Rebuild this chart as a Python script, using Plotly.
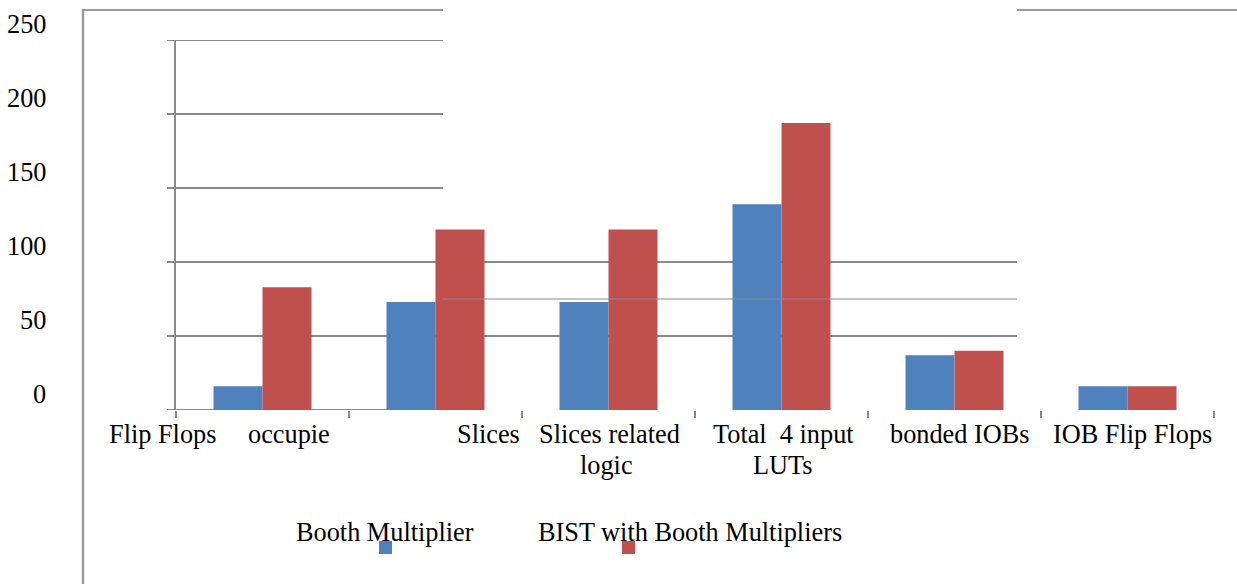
import plotly.graph_objects as go

# ---- data ----
categories = ["Flip Flops", "occupied Slices", "Slices related logic",
              "Total 4 input LUTs", "bonded IOBs", "IOB Flip Flops"]
series_names = ["Booth Multiplier", "BIST with Booth Multipliers"]
booth = [16, 73, 73, 139, 37, 16]
bist = [83, 122, 122, 194, 40, 16]
y_ticks = [0, 50, 100, 150, 200, 250]

# visible (partly clipped) category label texts
label_row1 = ["Flip Flops", "occupie", "Slices", "Slices related",
              "Total\u00a0 4 input", "bonded IOBs", "IOB Flip Flops"]
label_row2 = ["logic", "LUTs"]

# ---- layout constants ----
W, H = 1237, 584
L, R, T, B = 176, 23, 40, 174
PW = W - L - R
PH = H - T - B
FONT = "Liberation Serif, Times New Roman, serif"
FS = 26.3
BLUE = "#4F81BD"
RED = "#C0504D"
GRID = "#8a8a8a"
NCAT = len(categories)


def px_to_paper_x(px):
    return (px - L) / PW


def px_to_paper_y(py):
    return (H - B - py) / PH


def idx_to_paper_x(idx):
    # category index -> paper coordinate on the category axis range [-0.5, n-0.5]
    return (idx + 0.5) / NCAT


row1_x = [-0.578, 0.156, 1.306, 2.003, 3.014, 4.032, 5.029]
row2_x = [1.991, 3.006]

fig = go.Figure()
fig.add_trace(go.Bar(x=categories, y=booth, name=series_names[0],
                     marker=dict(color=BLUE, line=dict(width=0))))
fig.add_trace(go.Bar(x=categories, y=bist, name=series_names[1],
                     marker=dict(color=RED, line=dict(width=0))))

shapes = []
# gridlines in the left section (full set)
for v in y_ticks:
    shapes.append(dict(type="line", xref="paper", yref="y",
                       x0=px_to_paper_x(167), x1=px_to_paper_x(443), y0=v, y1=v,
                       line=dict(color=GRID, width=2), layer="below"))
# gridlines 50 and 100 continue to the right
for v in [50, 100]:
    shapes.append(dict(type="line", xref="paper", yref="y",
                       x0=px_to_paper_x(443), x1=px_to_paper_x(1017), y0=v, y1=v,
                       line=dict(color=GRID, width=2), layer="below"))
# thin stray line drawn over the bars
shapes.append(dict(type="line", xref="paper", yref="y",
                   x0=px_to_paper_x(443), x1=px_to_paper_x(1017), y0=75, y1=75,
                   line=dict(color=GRID, width=1), layer="above"))
# outer frame pieces
shapes.append(dict(type="line", xref="paper", yref="paper",
                   x0=px_to_paper_x(83), x1=px_to_paper_x(83),
                   y0=px_to_paper_y(10), y1=px_to_paper_y(590),
                   line=dict(color="#9a9a9a", width=2.5), layer="below"))
shapes.append(dict(type="line", xref="paper", yref="paper",
                   x0=px_to_paper_x(82), x1=px_to_paper_x(443),
                   y0=px_to_paper_y(10), y1=px_to_paper_y(10),
                   line=dict(color="#9a9a9a", width=2), layer="below"))
shapes.append(dict(type="line", xref="paper", yref="paper",
                   x0=px_to_paper_x(1017), x1=px_to_paper_x(1240),
                   y0=px_to_paper_y(10), y1=px_to_paper_y(10),
                   line=dict(color="#9a9a9a", width=2), layer="below"))

# legend markers
leg_items = [(series_names[0], BLUE, 295, 379), (series_names[1], RED, 537, 622)]
for name, col, tx, mx in leg_items:
    shapes.append(dict(type="rect", xref="paper", yref="paper",
                       x0=px_to_paper_x(mx), x1=px_to_paper_x(mx + 13),
                       y0=px_to_paper_y(541), y1=px_to_paper_y(554),
                       fillcolor=col, line=dict(width=0), layer="above"))

annotations = []
# y tick labels (offset above their gridlines)
for v in y_ticks:
    annotations.append(dict(text=str(v), xref="paper", yref="y",
                            x=px_to_paper_x(48), y=v, yshift=16,
                            xanchor="right", yanchor="middle", showarrow=False,
                            font=dict(family=FONT, size=FS, color="black")))
# category labels
for t, x in zip(label_row1, row1_x):
    annotations.append(dict(text=t, xref="paper", yref="y",
                            x=idx_to_paper_x(x), y=0, yshift=-8,
                            xanchor="center", yanchor="top", showarrow=False,
                            font=dict(family=FONT, size=FS, color="black")))
for t, x in zip(label_row2, row2_x):
    annotations.append(dict(text=t, xref="paper", yref="y",
                            x=idx_to_paper_x(x), y=0, yshift=-39,
                            xanchor="center", yanchor="top", showarrow=False,
                            font=dict(family=FONT, size=FS, color="black")))
# legend texts
for name, col, tx, mx in leg_items:
    annotations.append(dict(text=name, xref="paper", yref="paper",
                            x=px_to_paper_x(tx - 1), y=px_to_paper_y(532),
                            xanchor="left", yanchor="middle", showarrow=False,
                            font=dict(family=FONT, size=FS, color="black")))

fig.update_layout(
    width=W, height=H,
    margin=dict(l=L, r=R, t=T, b=B, pad=0),
    paper_bgcolor="white", plot_bgcolor="white",
    barmode="group", bargap=0.4335, bargroupgap=0,
    showlegend=False, hovermode=False,
    shapes=shapes, annotations=annotations,
    font=dict(family=FONT, size=FS, color="black"),
    xaxis=dict(type="category", range=[-0.5, 5.5], showgrid=False,
               showticklabels=False, tickson="boundaries", ticks="outside",
               ticklen=7, tickwidth=1.5, tickcolor=GRID, showline=False,
               zeroline=False),
    yaxis=dict(range=[0, 250], showgrid=False, showticklabels=False,
               showline=True, linecolor=GRID, linewidth=2, zeroline=False,
               ticks=""),
)

fig.write_html("out.html",
               config={"displayModeBar": False, "staticPlot": True},
               post_script="document.body.style.margin='0';"
                           "document.body.style.overflow='hidden';")
